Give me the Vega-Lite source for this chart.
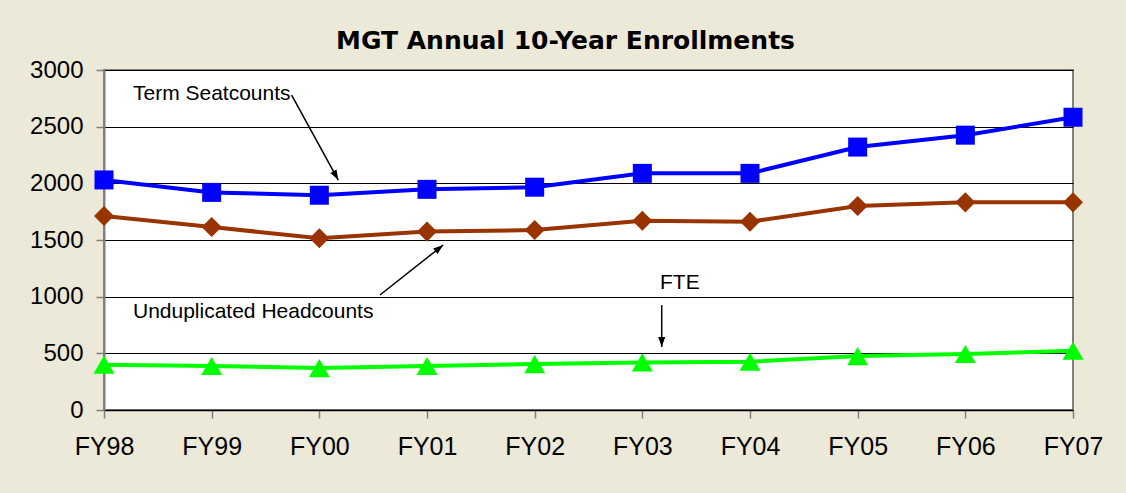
{
  "$schema": "https://vega.github.io/schema/vega-lite/v6.json",
  "autosize": "none",
  "width": 969,
  "height": 340,
  "padding": {"left": 104, "top": 70, "right": 53, "bottom": 83},
  "background": "#ECE9D8",
  "title": {
    "text": "MGT Annual 10-Year Enrollments",
    "font": "DejaVu Sans",
    "fontSize": 25,
    "fontWeight": "bold",
    "color": "#000000",
    "anchor": "middle",
    "frame": "group",
    "dx": -23,
    "dy": 38,
    "offset": 22,
    "baseline": "alphabetic"
  },
  "config": {
    "view": {"fill": "#FFFFFF", "stroke": "#808080", "strokeWidth": 2},
    "font": "Liberation Sans",
    "axisY": {
      "title": null,
      "values": [0, 500, 1000, 1500, 2000, 2500, 3000],
      "grid": true,
      "gridColor": "#000000",
      "gridWidth": 1,
      "gridOpacity": 1,
      "domainColor": "#808080",
      "domainWidth": 2,
      "tickColor": "#808080",
      "tickWidth": 1.5,
      "tickSize": 8,
      "labelFont": "Liberation Sans",
      "labelFontSize": 24,
      "labelColor": "#000000",
      "labelPadding": 13
    }
  },
  "datasets": {
    "enroll": [
      {"year": "FY98", "series": "Term Seatcounts", "value": 2030},
      {"year": "FY99", "series": "Term Seatcounts", "value": 1920},
      {"year": "FY00", "series": "Term Seatcounts", "value": 1895},
      {"year": "FY01", "series": "Term Seatcounts", "value": 1947},
      {"year": "FY02", "series": "Term Seatcounts", "value": 1966},
      {"year": "FY03", "series": "Term Seatcounts", "value": 2088},
      {"year": "FY04", "series": "Term Seatcounts", "value": 2088},
      {"year": "FY05", "series": "Term Seatcounts", "value": 2320},
      {"year": "FY06", "series": "Term Seatcounts", "value": 2425},
      {"year": "FY07", "series": "Term Seatcounts", "value": 2583},
      {"year": "FY98", "series": "Unduplicated Headcounts", "value": 1712},
      {"year": "FY99", "series": "Unduplicated Headcounts", "value": 1615},
      {"year": "FY00", "series": "Unduplicated Headcounts", "value": 1515},
      {"year": "FY01", "series": "Unduplicated Headcounts", "value": 1574},
      {"year": "FY02", "series": "Unduplicated Headcounts", "value": 1588},
      {"year": "FY03", "series": "Unduplicated Headcounts", "value": 1670},
      {"year": "FY04", "series": "Unduplicated Headcounts", "value": 1662},
      {"year": "FY05", "series": "Unduplicated Headcounts", "value": 1800},
      {"year": "FY06", "series": "Unduplicated Headcounts", "value": 1832},
      {"year": "FY07", "series": "Unduplicated Headcounts", "value": 1832},
      {"year": "FY98", "series": "FTE", "value": 400},
      {"year": "FY99", "series": "FTE", "value": 388},
      {"year": "FY00", "series": "FTE", "value": 370},
      {"year": "FY01", "series": "FTE", "value": 388},
      {"year": "FY02", "series": "FTE", "value": 405},
      {"year": "FY03", "series": "FTE", "value": 420},
      {"year": "FY04", "series": "FTE", "value": 426},
      {"year": "FY05", "series": "FTE", "value": 476},
      {"year": "FY06", "series": "FTE", "value": 494},
      {"year": "FY07", "series": "FTE", "value": 523}
    ],
    "labels": [
      {"label": "Term Seatcounts", "x": 0.269, "y": 2735},
      {"label": "Unduplicated Headcounts", "x": 0.269, "y": 812},
      {"label": "FTE", "x": 5.164, "y": 1068}
    ],
    "arrows": [
      {"arrow": "ts", "x": 1.743, "y": 2779, "x2": 2.176, "y2": 2029},
      {"arrow": "uh", "x": 2.563, "y": 1015, "x2": 3.151, "y2": 1456},
      {"arrow": "fte", "x": 5.18, "y": 926, "x2": 5.18, "y2": 556}
    ]
  },
  "layer": [
    {
      "data": {"name": "enroll"},
      "encoding": {
        "x": {
          "field": "year",
          "type": "ordinal",
          "scale": {"type": "point", "padding": 0, "domain": ["FY98", "FY99", "FY00", "FY01", "FY02", "FY03", "FY04", "FY05", "FY06", "FY07"]},
          "axis": {
            "title": null,
            "labelAngle": 0,
            "labelFont": "Liberation Sans",
            "labelFontSize": 25,
            "labelColor": "#000000",
            "labelPadding": 16,
            "tickSize": 8,
            "tickColor": "#808080",
            "tickWidth": 1.5,
            "domainColor": "#000000",
            "domainWidth": 1.5,
            "grid": false
          }
        },
        "y": {
          "field": "value",
          "type": "quantitative",
          "scale": {"domain": [0, 3000], "nice": false},
          "axis": {"title": null, "format": "d"}
        },
        "color": {
          "field": "series",
          "type": "nominal",
          "scale": {"domain": ["Term Seatcounts", "Unduplicated Headcounts", "FTE"], "range": ["#0000FF", "#993300", "#00FF00"]},
          "legend": null
        }
      },
      "layer": [
        {"mark": {"type": "line", "strokeWidth": 4}},
        {
          "mark": {"type": "point", "filled": true, "opacity": 1},
          "encoding": {
            "shape": {
              "field": "series",
              "type": "nominal",
              "scale": {"domain": ["Term Seatcounts", "Unduplicated Headcounts", "FTE"], "range": ["square", "diamond", "triangle-up"]},
              "legend": null
            },
            "size": {
              "field": "series",
              "type": "ordinal",
              "scale": {"domain": ["Term Seatcounts", "Unduplicated Headcounts", "FTE"], "range": [361, 441, 484]},
              "legend": null
            }
          }
        }
      ]
    },
    {
      "data": {"name": "labels"},
      "mark": {"type": "text", "align": "left", "baseline": "alphabetic", "fontSize": 21, "font": "Liberation Sans", "color": "#000000"},
      "encoding": {
        "x": {"field": "x", "type": "quantitative", "scale": {"domain": [0, 9], "nice": false, "zero": false}, "axis": null},
        "y": {"field": "y", "type": "quantitative", "axis": {"title": null, "format": "d"}},
        "text": {"field": "label"}
      }
    },
    {
      "data": {"name": "arrows"},
      "mark": {"type": "rule", "color": "#000000", "strokeWidth": 1.5},
      "encoding": {
        "x": {"field": "x", "type": "quantitative", "scale": {"domain": [0, 9], "nice": false, "zero": false}, "axis": null},
        "y": {"field": "y", "type": "quantitative", "axis": {"title": null, "format": "d"}},
        "x2": {"field": "x2"},
        "y2": {"field": "y2"}
      }
    },
    {
      "data": {"name": "arrows"},
      "transform": [{"filter": "datum.arrow === 'ts'"}],
      "mark": {"type": "point", "filled": true, "opacity": 1, "color": "#000000", "shape": "M0,0L-0.35,1L0.35,1Z", "size": 400, "angle": 151},
      "encoding": {
        "x": {"field": "x2", "type": "quantitative", "scale": {"domain": [0, 9], "nice": false, "zero": false}, "axis": null},
        "y": {"field": "y2", "type": "quantitative", "axis": {"title": null, "format": "d"}}
      }
    },
    {
      "data": {"name": "arrows"},
      "transform": [{"filter": "datum.arrow === 'uh'"}],
      "mark": {"type": "point", "filled": true, "opacity": 1, "color": "#000000", "shape": "M0,0L-0.35,1L0.35,1Z", "size": 400, "angle": 52},
      "encoding": {
        "x": {"field": "x2", "type": "quantitative", "scale": {"domain": [0, 9], "nice": false, "zero": false}, "axis": null},
        "y": {"field": "y2", "type": "quantitative", "axis": {"title": null, "format": "d"}}
      }
    },
    {
      "data": {"name": "arrows"},
      "transform": [{"filter": "datum.arrow === 'fte'"}],
      "mark": {"type": "point", "filled": true, "opacity": 1, "color": "#000000", "shape": "M0,0L-0.35,1L0.35,1Z", "size": 400, "angle": 180},
      "encoding": {
        "x": {"field": "x2", "type": "quantitative", "scale": {"domain": [0, 9], "nice": false, "zero": false}, "axis": null},
        "y": {"field": "y2", "type": "quantitative", "axis": {"title": null, "format": "d"}}
      }
    }
  ],
  "resolve": {"scale": {"x": "independent"}}
}
